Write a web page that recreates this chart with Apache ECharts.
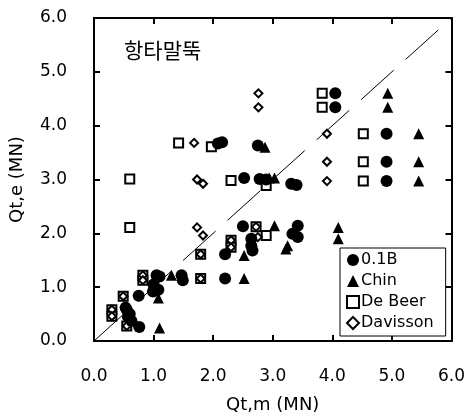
<!DOCTYPE html>
<html><head><meta charset="utf-8">
<script src="https://cdn.jsdelivr.net/npm/echarts@6/dist/echarts.min.js"></script>
<style>html,body{margin:0;padding:0;background:#fff}#c{width:468px;height:419px}</style>
</head><body><div id="c"></div>
<script>
const xTicks = [0,1,2,3,4,5,6];
const seriesNames = ['0.1B','Chin','De Beer','Davisson'];
const b01 = [[4.05,4.60],[4.05,4.34],[4.91,3.85],[4.91,3.33],[4.91,2.97],[2.08,3.67],[2.15,3.69],[2.75,3.63],
  [2.52,3.03],[2.78,3.01],[2.89,3.00],[3.31,2.92],[3.40,2.90],[2.50,2.13],[2.64,1.90],[2.64,1.77],[2.66,1.68],
  [3.42,2.14],[3.33,1.99],[3.42,1.93],[2.20,1.61],[2.20,1.16],[1.05,1.22],[1.10,1.20],[1.00,1.05],[0.99,0.92],
  [1.08,0.95],[1.47,1.22],[1.49,1.13],[0.75,0.84],[0.55,0.58],[0.57,0.45],[0.63,0.37],[0.60,0.50],[0.76,0.26],[0.53,0.62]];
const chin = [[4.93,4.60],[4.93,4.34],[5.45,3.85],[5.45,3.33],[5.45,2.97],[2.87,3.60],[2.94,3.03],[3.03,3.03],
  [3.03,2.14],[3.25,1.77],[3.22,1.71],[4.10,2.11],[4.10,1.90],[2.52,1.59],[2.52,1.16],[1.30,1.22],[1.08,0.80],[1.10,0.24]];
const deBeer = [[3.83,4.60],[3.83,4.34],[4.52,3.85],[4.52,3.33],[4.52,2.97],[1.42,3.68],[1.97,3.61],[0.60,3.01],
  [2.30,2.98],[0.60,2.11],[2.72,2.12],[2.89,1.96],[2.30,1.87],[2.30,1.74],[1.79,1.61],[1.79,1.16],[0.82,1.22],
  [0.82,1.13],[0.49,0.83],[0.30,0.58],[0.30,0.46],[0.55,0.28],[2.89,2.89]];
const davisson = [[2.76,4.60],[2.76,4.34],[3.91,3.85],[3.91,3.33],[3.91,2.97],[1.68,3.68],[1.73,3.00],[1.83,2.92],
  [1.73,2.11],[1.83,1.96],[2.30,1.87],[2.30,1.74],[2.72,2.12],[2.75,1.93],[1.79,1.61],[1.79,1.16],[0.82,1.22],
  [0.82,1.13],[0.49,0.83],[0.30,0.58],[0.30,0.46],[0.55,0.28]];
const diagonal = [[0,0],[6,6]];

const font = 'DejaVu Sans, sans-serif';
const fmt = v => v.toFixed(1);
const baseAxis = {
  min: 0, max: 6, interval: 1,
  axisLine: {show: true, onZero: false, lineStyle: {color: '#000', width: 2}},
  axisTick: {show: true, inside: true, length: 6, lineStyle: {color: '#000', width: 2}},
  splitLine: {show: false}
};
const chart = echarts.init(document.getElementById('c'));
chart.setOption({
  animation: false,
  backgroundColor: '#fff',
  grid: {left: 94, right: 15, top: 18, bottom: 74, containLabel: false},
  title: {text: '항타말뚝', left: 119, top: 35,
    textStyle: {fontFamily: 'Noto Sans CJK KR', fontSize: 21, fontWeight: 'normal', color: '#000'}},
  xAxis: [
    Object.assign({}, baseAxis, {type: 'value', position: 'bottom', name: 'Qt,m (MN)', nameLocation: 'middle', nameGap: 55,
      nameTextStyle: {fontFamily: font, fontSize: 18, color: '#000'},
      axisLabel: {formatter: fmt, fontFamily: font, fontSize: 17, color: '#000', margin: 27}}),
    Object.assign({}, baseAxis, {type: 'value', position: 'top', axisLabel: {show: false}})
  ],
  yAxis: [
    Object.assign({}, baseAxis, {type: 'value', position: 'left', name: 'Qt,e (MN)', nameLocation: 'middle', nameGap: 68,
      nameTextStyle: {fontFamily: font, fontSize: 18, color: '#000'},
      axisLabel: {formatter: fmt, fontFamily: font, fontSize: 17, color: '#000', margin: 27}}),
    Object.assign({}, baseAxis, {type: 'value', position: 'right', axisLabel: {show: false}})
  ],
  legend: {
    orient: 'vertical', left: 340, top: 248, width: 104,
    backgroundColor: '#fff', borderColor: '#000', borderWidth: 1, borderRadius: 0,
    padding: [4, 12, 5, 6], itemGap: 5, itemWidth: 12, itemHeight: 12,
    textStyle: {fontFamily: font, fontSize: 16, color: '#000', padding: [0,0,0,-3]},
    data: [
      {name: '0.1B', icon: 'circle'},
      {name: 'Chin', icon: 'triangle'},
      {name: 'De Beer', icon: 'rect'},
      {name: 'Davisson', icon: 'diamond'}
    ]
  },
  series: [
    {type: 'line', data: diagonal, symbol: 'none', silent: true, z: 1,
      lineStyle: {color: '#000', width: 1, type: [44, 16]}},
    {name: seriesNames[3], type: 'scatter', data: davisson, symbol: 'diamond', symbolSize: 8, z: 3,
      itemStyle: {color: '#fff', borderColor: '#000', borderWidth: 2, opacity: 1}},
    {name: seriesNames[2], type: 'scatter', data: deBeer, symbol: 'rect', symbolSize: 9, z: 2,
      itemStyle: {color: '#fff', borderColor: '#000', borderWidth: 2, opacity: 1}},
    {name: seriesNames[0], type: 'scatter', data: b01, symbol: 'circle', symbolSize: 12, z: 4,
      itemStyle: {color: '#000', opacity: 1}},
    {name: seriesNames[1], type: 'scatter', data: chin, symbol: 'triangle', symbolSize: 11, z: 4,
      itemStyle: {color: '#000', opacity: 1}}
  ]
});
</script></body></html>
